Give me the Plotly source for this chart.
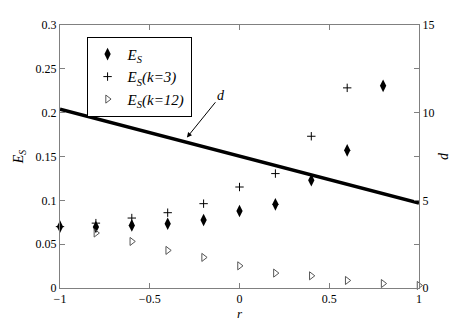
import plotly.graph_objects as go

r = [-1, -0.8, -0.6, -0.4, -0.2, 0, 0.2, 0.4, 0.6, 0.8]
es = [0.070, 0.0695, 0.0714, 0.0733, 0.0775, 0.0878, 0.0954, 0.1229, 0.157, 0.2306]

r_k3 = [-1, -0.8, -0.6, -0.4, -0.2, 0, 0.2, 0.4, 0.6]
es_k3 = [0.070, 0.074, 0.0798, 0.0859, 0.0962, 0.1152, 0.1305, 0.1731, 0.2283]

r_k12 = [-0.8, -0.6, -0.4, -0.2, 0, 0.2, 0.4, 0.6, 0.8, 1]
es_k12 = [0.0627, 0.0531, 0.0429, 0.0349, 0.0253, 0.017, 0.0139, 0.0086, 0.0051, 0.0029]

r_d = [-1, 1]
d = [10.2, 4.85]

font = "Liberation Serif"
gray = "#808080"

fig = go.Figure()

fig.add_trace(go.Scatter(
    x=r, y=es, mode="markers", name="<i>E<sub>S</sub></i>", cliponaxis=False,
    marker=dict(symbol="diamond-tall", size=9, color="black")
))
fig.add_trace(go.Scatter(
    x=r_k3, y=es_k3, mode="markers", name="<i>E<sub>S</sub>(k=3)</i>", cliponaxis=False,
    marker=dict(symbol="cross-thin", size=6, line=dict(width=1, color="black"))
))
fig.add_trace(go.Scatter(
    x=r_k12, y=es_k12, mode="markers", name="<i>E<sub>S</sub>(k=12)</i>", cliponaxis=False,
    marker=dict(symbol="triangle-right-open", size=7, color="#555555",
                line=dict(width=1))
))
fig.add_trace(go.Scatter(
    x=r_d, y=d, mode="lines", yaxis="y2", showlegend=False,
    line=dict(color="black", width=3.5)
))

fig.add_annotation(
    x=-0.293, y=0.1717, xref="x", yref="y",
    text="<i>d</i>", showarrow=True, ax=34, ay=-42,
    arrowhead=2, arrowsize=1, arrowwidth=1, arrowcolor="black",
    font=dict(family=font, size=14, color="black")
)

# the page adds an 8px body margin, so the figure is drawn 8px smaller
fig.update_layout(
    width=455, height=316,
    margin=dict(l=52, r=44, t=17, b=36),
    plot_bgcolor="white", paper_bgcolor="white",
    font=dict(family=font, size=12, color="black"),
    xaxis=dict(
        range=[-1, 1], dtick=0.5, showgrid=False, zeroline=False,
        showline=True, linecolor=gray, linewidth=1, mirror="ticks",
        ticks="inside", ticklen=5, tickcolor=gray, automargin=False,
        title=dict(text="<i>r</i>", standoff=2, font=dict(size=13))
    ),
    yaxis=dict(
        range=[0, 0.3], dtick=0.05, showgrid=False, zeroline=False,
        showline=True, linecolor=gray, linewidth=1,
        ticks="inside", ticklen=5, tickcolor=gray, automargin=False,
        title=dict(text="<i>E<sub>S</sub></i>", standoff=8, font=dict(size=14))
    ),
    yaxis2=dict(
        range=[0, 15], overlaying="y", side="right",
        tickvals=[0, 2.5, 5, 7.5, 10, 12.5, 15],
        ticktext=["0", "", "5", "", "10", "", "15"],
        showgrid=False, zeroline=False,
        showline=True, linecolor=gray, linewidth=1,
        ticks="inside", ticklen=5, tickcolor=gray, automargin=False,
        title=dict(text="<i>d</i>", standoff=4, font=dict(size=14))
    ),
    legend=dict(
        x=0.074, y=0.955, xanchor="left", yanchor="top",
        bordercolor="black", borderwidth=1, bgcolor="white",
        font=dict(family=font, size=15), itemwidth=30
    )
)

fig.write_html("out.html")
